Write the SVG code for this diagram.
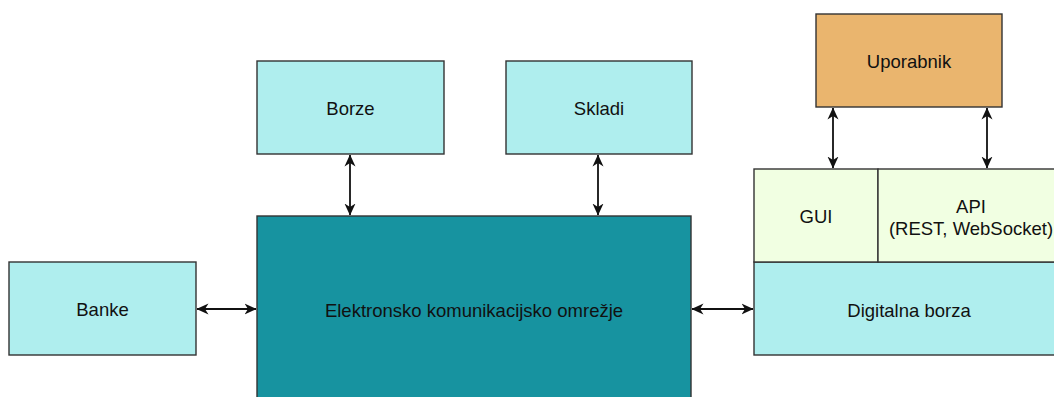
<svg xmlns="http://www.w3.org/2000/svg" width="1054" height="397" viewBox="0 0 1054 397">
<style>
.box{stroke:#333;stroke-width:1.4}
.c{fill:#AFEEEE}
.t{font-family:"Liberation Sans",Arial,sans-serif;font-size:18.5px;fill:#111;text-anchor:middle;dominant-baseline:central}
.ln{stroke:#111;stroke-width:1.8;fill:none;marker-start:url(#a);marker-end:url(#a)}
</style>
<defs>
<marker id="a" viewBox="0 0 12 12" refX="11.5" refY="6" markerWidth="12" markerHeight="12" markerUnits="userSpaceOnUse" orient="auto-start-reverse">
<path d="M0,0.5 L12,6 L0,11.5 L3.5,6 Z" fill="#111"/>
</marker>
</defs>
<rect width="1054" height="397" fill="#fff"/>
<g id="connectors">
<line class="ln" x1="350" y1="155" x2="350" y2="215"/>
<line class="ln" x1="598" y1="155" x2="598" y2="215"/>
<line class="ln" x1="197" y1="309" x2="256" y2="309"/>
<line class="ln" x1="692" y1="309" x2="753" y2="309"/>
<line class="ln" x1="833" y1="108" x2="833" y2="168"/>
<line class="ln" x1="987" y1="108" x2="987" y2="168"/>
</g>
<g id="banke"><rect class="box c" x="9" y="262" width="187" height="93"/><text class="t" x="102.5" y="309">Banke</text></g>
<g id="borze"><rect class="box c" x="257" y="61" width="187" height="93"/><text class="t" x="350.5" y="108">Borze</text></g>
<g id="skladi"><rect class="box c" x="506" y="61" width="186" height="93"/><text class="t" x="599" y="108">Skladi</text></g>
<g id="omrezje"><rect class="box" fill="#1793A0" x="257" y="216" width="434" height="190"/><text class="t" x="474" y="310">Elektronsko komunikacijsko omrežje</text></g>
<g id="uporabnik"><rect class="box" fill="#EAB56E" x="816" y="14" width="186" height="93"/><text class="t" x="909" y="61">Uporabnik</text></g>
<g id="digitalna"><rect class="box c" x="754" y="262" width="310" height="93"/><text class="t" x="909" y="310">Digitalna borza</text></g>
<g id="gui"><rect class="box" fill="#F1FFE2" x="754" y="169" width="124" height="93"/><text class="t" x="816" y="216">GUI</text></g>
<g id="api"><rect class="box" fill="#F1FFE2" x="878" y="169" width="186" height="93"/><text class="t" x="971" y="206">API</text><text class="t" x="971" y="228">(REST, WebSocket)</text></g>
</svg>
